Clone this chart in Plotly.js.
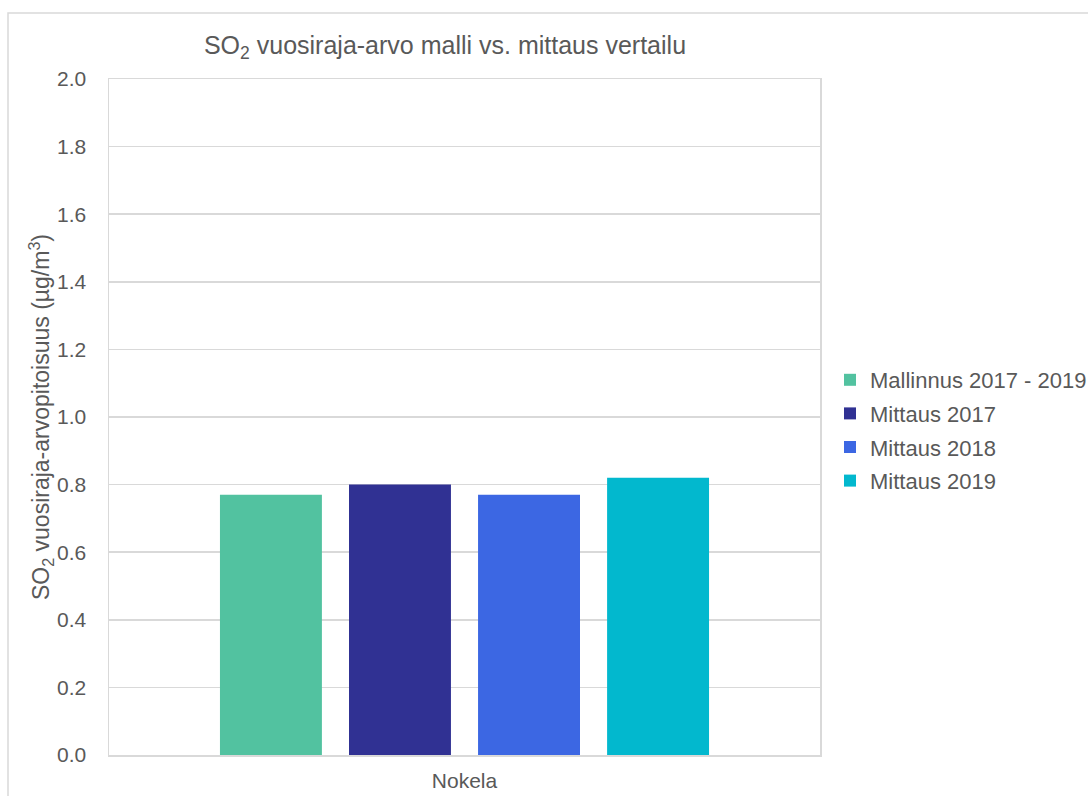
<!DOCTYPE html>
<html>
<head>
<meta charset="utf-8">
<script src="https://cdn.plot.ly/plotly-3.0.1.min.js"></script>
<style>
  html, body { margin: 0; padding: 0; background: #ffffff; }
  #chart { width: 1088px; height: 796px; }
</style>
</head>
<body>
<div id="chart"></div>
<script>
// Measuring site and series
const sites = ['Nokela'];
const seriesNames = ['Mallinnus 2017 - 2019', 'Mittaus 2017', 'Mittaus 2018', 'Mittaus 2019'];
const seriesValues = [[0.77], [0.80], [0.77], [0.82]];
const seriesColors = ['#52C2A0', '#303193', '#3C67E3', '#02B8CE'];
const yTicks = [0, 0.2, 0.4, 0.6, 0.8, 1.0, 1.2, 1.4, 1.6, 1.8, 2.0];

const textColor = '#595959';
const gridColor = '#d9d9d9';
const font = 'Liberation Sans, Arial, sans-serif';

const traces = seriesNames.map((name, i) => ({
  type: 'bar',
  name: name,
  x: sites,
  y: seriesValues[i],
  legendgroup: 'g' + i,
  marker: { color: seriesColors[i], line: { width: 0 } },
  hoverinfo: 'name+y'
}));

const W = 1088, H = 796;
const L = 109, R = 820, T = 79, B = 755;

const layout = {
  width: W,
  height: H,
  paper_bgcolor: '#ffffff',
  plot_bgcolor: '#ffffff',
  font: { family: font, color: textColor, size: 21 },
  margin: { l: L, r: W - R, t: T, b: H - B, pad: 0, autoexpand: false },
  title: {
    text: 'SO<sub>2</sub> vuosiraja-arvo malli vs. mittaus vertailu',
    font: { family: font, size: 25, color: textColor },
    xref: 'container', yref: 'container',
    x: 445 / W, xanchor: 'center',
    y: 1 - 45 / H, yanchor: 'middle'
  },
  barmode: 'group',
  bargap: 0.274,
  bargroupgap: 0.21,
  xaxis: {
    type: 'category',
    showgrid: false,
    zeroline: false,
    showline: true,
    linecolor: gridColor,
    linewidth: 1.5,
    mirror: true,
    ticks: '',
    ticklabelstandoff: 6,
    tickfont: { family: font, size: 21, color: textColor },
    fixedrange: true
  },
  yaxis: {
    range: [0, 2.0],
    tickvals: yTicks,
    ticktext: yTicks.map(v => v.toFixed(1)),
    showgrid: true,
    gridcolor: gridColor,
    gridwidth: 1.5,
    zeroline: false,
    showline: true,
    linecolor: gridColor,
    linewidth: 1.5,
    mirror: true,
    ticks: '',
    ticklabelstandoff: 17,
    tickfont: { family: font, size: 21, color: textColor },
    title: {
      text: 'SO<sub>2</sub> vuosiraja-arvopitoisuus (µg/m<sup>3</sup>)',
      font: { family: font, size: 23, color: textColor },
      standoff: 0
    },
    automargin: false,
    fixedrange: true
  },
  showlegend: true,
  legend: {
    xref: 'container', yref: 'container',
    x: 830 / W,
    xanchor: 'left',
    y: 1 - 430.5 / H,
    yanchor: 'middle',
    traceorder: 'grouped',
    tracegroupgap: 2,
    font: { family: font, size: 22, color: textColor },
    bgcolor: 'rgba(0,0,0,0)',
    itemwidth: 30
  },
  shapes: [{
    type: 'rect',
    xref: 'paper', yref: 'paper',
    x0: (8 - L) / (R - L), x1: (1100 - L) / (R - L),
    y0: (B - 810) / (B - T), y1: (B - 13) / (B - T),
    line: { color: gridColor, width: 1.5 },
    fillcolor: 'rgba(0,0,0,0)',
    layer: 'below'
  }]
};

Plotly.newPlot('chart', traces, layout, { displayModeBar: false, staticPlot: true });
</script>
</body>
</html>
